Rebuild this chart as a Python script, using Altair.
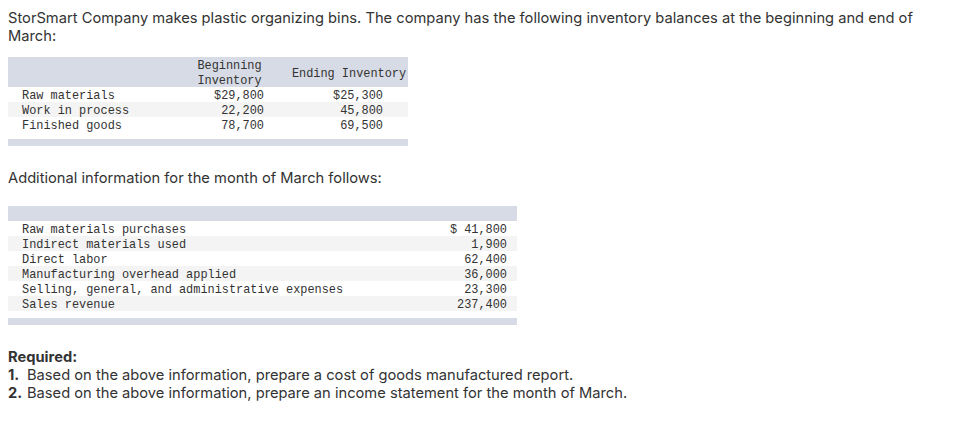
import altair as alt
import pandas as pd

# ---------------- data ----------------
intro_lines = [
    "StorSmart Company makes plastic organizing bins. The company has the following inventory balances at the beginning and end of",
    "March:",
]
inv_items = ["Raw materials", "Work in process", "Finished goods"]
inv_beginning = [29800, 22200, 78700]
inv_ending = [25300, 45800, 69500]
inv_header_begin = ["Beginning", "Inventory"]
inv_header_end = ["Ending Inventory"]

additional_intro = ["Additional information for the month of March follows:"]
add_items = [
    "Raw materials purchases",
    "Indirect materials used",
    "Direct labor",
    "Manufacturing overhead applied",
    "Selling, general, and administrative expenses",
    "Sales revenue",
]
add_values = [41800, 1900, 62400, 36000, 23300, 237400]

required_title = ["Required:"]
required_numbers = ["1.", "2."]
required_texts = [
    "Based on the above information, prepare a cost of goods manufactured report.",
    "Based on the above information, prepare an income statement for the month of March.",
]

# ---------------- layout (page pixel units) ----------------
W, H = 935, 400
X0, Y0 = 7, 8
ROW_H = 15
TEXT_X = 7
LABEL_X = 21

T1_LEFT, T1_RIGHT = 6, 407
T1_HEAD_TOP, T1_HEAD_BOT = 57, 87
T1_FOOT_TOP, T1_FOOT_BOT = 139, 146
T1_COL1_RIGHT, T1_COL2_RIGHT = 263, 382
T1_HEAD1_CX, T1_HEAD2_CX = 228.5, 348
T1_HEAD1_Y = [65, 80]
T1_HEAD2_Y = 72.5

T2_LEFT, T2_RIGHT = 6, 516
T2_HEAD_TOP, T2_HEAD_BOT = 206, 221
T2_FOOT_TOP, T2_FOOT_BOT = 318, 325
T2_VAL_RIGHT = 506

INTRO_BASE = [22.5, 40.5]
ADD_BASE = 183
REQ_BASE = [361.5, 379.5, 397.5]
REQ_TEXT_X = 26

HEAD_FILL = "#d7dbe5"
STRIPE_FILL = "#f4f4f4"
WHITE = "#ffffff"
TEXT_COLOR = "#333333"
SANS = "Inter"
SANS_SIZE = 14.7
MONO = "Liberation Mono"
MONO_SIZE = 11.9

# ---------------- tables for marks ----------------
rects = []
rects.append(dict(x=T1_LEFT, x2=T1_RIGHT, y=T1_HEAD_TOP, y2=T1_HEAD_BOT, fill=HEAD_FILL))
for i in range(len(inv_items)):
    rects.append(dict(x=T1_LEFT, x2=T1_RIGHT, y=T1_HEAD_BOT + ROW_H * i,
                      y2=T1_HEAD_BOT + ROW_H * (i + 1),
                      fill=STRIPE_FILL if i % 2 == 1 else WHITE))
rects.append(dict(x=T1_LEFT, x2=T1_RIGHT, y=T1_FOOT_TOP, y2=T1_FOOT_BOT, fill=HEAD_FILL))
rects.append(dict(x=T2_LEFT, x2=T2_RIGHT, y=T2_HEAD_TOP, y2=T2_HEAD_BOT, fill=HEAD_FILL))
for i in range(len(add_items)):
    rects.append(dict(x=T2_LEFT, x2=T2_RIGHT, y=T2_HEAD_BOT + ROW_H * i,
                      y2=T2_HEAD_BOT + ROW_H * (i + 1),
                      fill=STRIPE_FILL if i % 2 == 1 else WHITE))
rects.append(dict(x=T2_LEFT, x2=T2_RIGHT, y=T2_FOOT_TOP, y2=T2_FOOT_BOT, fill=HEAD_FILL))
rect_df = pd.DataFrame(rects)

mono_left = []
for i, t in enumerate(inv_items):
    mono_left.append(dict(x=LABEL_X, y=T1_HEAD_BOT + ROW_H * (i + 0.5), t=t))
for i, t in enumerate(add_items):
    mono_left.append(dict(x=LABEL_X, y=T2_HEAD_BOT + ROW_H * (i + 0.5), t=t))

mono_right = []
for i, v in enumerate(inv_beginning):
    mono_right.append(dict(x=T1_COL1_RIGHT, y=T1_HEAD_BOT + ROW_H * (i + 0.5),
                           t=("$" if i == 0 else "") + f"{v:,}"))
for i, v in enumerate(inv_ending):
    mono_right.append(dict(x=T1_COL2_RIGHT, y=T1_HEAD_BOT + ROW_H * (i + 0.5),
                           t=("$" if i == 0 else "") + f"{v:,}"))
for i, v in enumerate(add_values):
    mono_right.append(dict(x=T2_VAL_RIGHT, y=T2_HEAD_BOT + ROW_H * (i + 0.5),
                           t=(f"$ {v:,}" if i == 0 else f"{v:,}")))

mono_center = []
for t, yy in zip(inv_header_begin, T1_HEAD1_Y):
    mono_center.append(dict(x=T1_HEAD1_CX, y=yy, t=t))
for t in inv_header_end:
    mono_center.append(dict(x=T1_HEAD2_CX, y=T1_HEAD2_Y, t=t))

sans_reg = []
for t, b in zip(intro_lines, INTRO_BASE):
    sans_reg.append(dict(x=TEXT_X, y=b, t=t))
for t in additional_intro:
    sans_reg.append(dict(x=TEXT_X, y=ADD_BASE, t=t))
for t, b in zip(required_texts, REQ_BASE[1:]):
    sans_reg.append(dict(x=REQ_TEXT_X, y=b, t=t))

sans_bold = []
for t in required_title:
    sans_bold.append(dict(x=TEXT_X, y=REQ_BASE[0], t=t))
for t, b in zip(required_numbers, REQ_BASE[1:]):
    sans_bold.append(dict(x=TEXT_X, y=b, t=t))

# ---------------- chart ----------------
xs = alt.Scale(domain=[X0, X0 + W], nice=False, zero=False)
ys = alt.Scale(domain=[Y0, Y0 + H], nice=False, zero=False, reverse=True)


def xy():
    return dict(
        x=alt.X("x:Q", scale=xs, axis=None),
        y=alt.Y("y:Q", scale=ys, axis=None),
    )


rect_layer = alt.Chart(rect_df).mark_rect().encode(
    x=alt.X("x:Q", scale=xs, axis=None),
    x2="x2:Q",
    y=alt.Y("y:Q", scale=ys, axis=None),
    y2="y2:Q",
    fill=alt.Fill("fill:N", scale=None),
)


def text_layer(rows, align, baseline, font, size, weight="normal"):
    return alt.Chart(pd.DataFrame(rows)).mark_text(
        align=align, baseline=baseline, font=font, fontSize=size,
        fontWeight=weight, color=TEXT_COLOR,
    ).encode(text="t:N", **xy())


chart = alt.layer(
    rect_layer,
    text_layer(mono_left, "left", "middle", MONO, MONO_SIZE),
    text_layer(mono_right, "right", "middle", MONO, MONO_SIZE),
    text_layer(mono_center, "center", "middle", MONO, MONO_SIZE),
    text_layer(sans_reg, "left", "alphabetic", SANS, SANS_SIZE),
    text_layer(sans_bold, "left", "alphabetic", SANS, SANS_SIZE, "bold"),
).properties(
    width=W, height=H, padding=0, autosize="none", background="#ffffff"
).configure_view(stroke=None)

chart.save("out.html", embed_options={"renderer": "svg", "actions": False})
